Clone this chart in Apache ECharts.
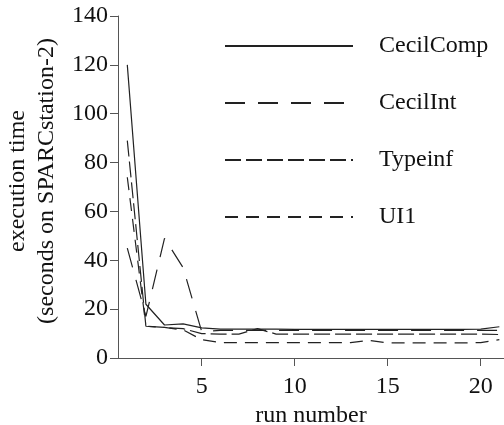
<!DOCTYPE html>
<html>
<head>
<meta charset="utf-8">
<script src="https://cdn.jsdelivr.net/npm/echarts@6/dist/echarts.min.js"></script>
<style>html,body{margin:0;padding:0;background:#fff;}#c{width:504px;height:425px;}</style>
</head>
<body>
<div id="c"></div>
<script>
var runs = [1,2,3,4,5,6,7,8,9,10,11,12,13,14,15,16,17,18,19,20,21];
var cecilComp = [120, 22, 13.5, 14, 12.3, 11.8, 11.8, 11.8, 11.8, 11.7, 11.7, 11.7, 11.7, 11.7, 11.7, 11.7, 11.7, 11.7, 11.7, 11.8, 12.8];
var cecilInt  = [45, 17, 49, 37, 10.8, 11.3, 11.3, 11.3, 11.3, 11.3, 11.3, 11.3, 11.3, 11.3, 11.3, 11.3, 11.3, 11.3, 11.3, 11.3, 11.3];
var typeinf   = [89, 13, 12.5, 12, 10, 9.8, 9.8, 12, 9.8, 9.8, 9.8, 9.8, 9.8, 9.8, 9.8, 9.8, 9.8, 9.8, 9.8, 9.8, 9.6];
var ui1       = [74, 13, 12.5, 11.5, 7.5, 6.3, 6.3, 6.3, 6.3, 6.3, 6.3, 6.3, 6.3, 7.2, 6.2, 6.2, 6.2, 6.2, 6.2, 6.3, 7.5];
var seriesNames = ['CecilComp', 'CecilInt', 'Typeinf', 'UI1'];
var xTicks = [5, 10, 15, 20];

function pairs(v){ return runs.map(function(r,i){ return [r, v[i]]; }); }

var FONT = '"Liberation Serif", "DejaVu Serif", serif';
var lineColor = '#222';
var dashes = ['solid', [20,13], [16,5], [13,8]];
var dataSets = [cecilComp, cecilInt, typeinf, ui1];

var chart = echarts.init(document.getElementById('c'), null, {renderer:'canvas'});
chart.setOption({
  animation: false,
  backgroundColor: '#fff',
  grid: { left: 118, right: 0, top: 16, bottom: 67, containLabel: false, outerBoundsMode: 'none' },
  legend: {
    orient: 'vertical',
    left: 224, top: 34, padding: 0,
    itemWidth: 128, itemHeight: 24, itemGap: 33,
    itemStyle: { opacity: 0 },
    textStyle: { fontFamily: FONT, fontSize: 24, color: '#111', lineHeight: 24, padding: [0,0,0,21] },
    data: seriesNames
  },
  xAxis: {
    type: 'value', min: 0.5, max: 21.25,
    name: 'run number', nameLocation: 'middle', nameGap: 43,
    nameTextStyle: { fontFamily: FONT, fontSize: 24, color: '#111' },
    axisLine: { show: true, lineStyle: { color: '#555', width: 1 } },
    axisTick: { show: true, length: 8, customValues: xTicks, lineStyle: { color: '#555' } },
    axisLabel: { customValues: xTicks, margin: 17, fontFamily: FONT, fontSize: 24, color: '#111' },
    splitLine: { show: false }
  },
  yAxis: {
    type: 'value', min: 0, max: 140, interval: 20,
    name: 'execution time\n(seconds on SPARCstation-2)', nameLocation: 'middle', nameGap: 56, nameRotate: 90,
    nameTextStyle: { fontFamily: FONT, fontSize: 24, color: '#111', lineHeight: 29, padding: [0,0,0,12] },
    axisLine: { show: true, lineStyle: { color: '#555', width: 1 } },
    axisTick: { show: true, length: 8, lineStyle: { color: '#555' } },
    axisLabel: { margin: 10, fontFamily: FONT, fontSize: 24, color: '#111' },
    splitLine: { show: false }
  },
  series: seriesNames.map(function(n, i){
    return {
      name: n, type: 'line', data: pairs(dataSets[i]),
      symbol: 'none', showSymbol: false,
      lineStyle: { color: lineColor, width: 1.2, type: dashes[i] },
      itemStyle: { color: lineColor }
    };
  })
});
</script>
</body>
</html>
